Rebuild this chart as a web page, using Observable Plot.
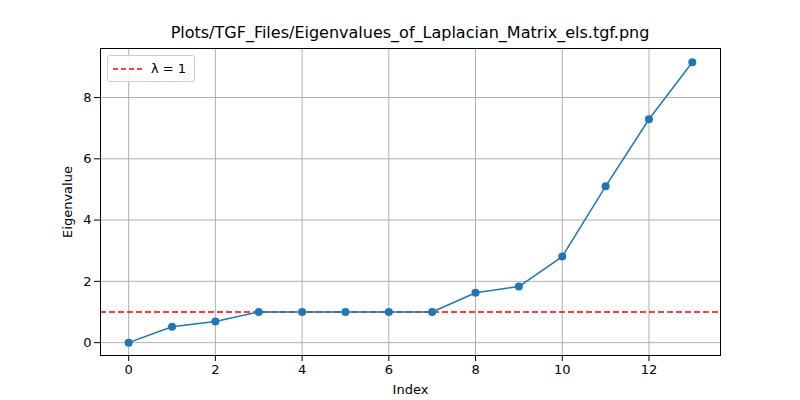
<!DOCTYPE html>
<html><head><meta charset="utf-8">
<script src="https://cdn.jsdelivr.net/npm/d3@7"></script>
<script src="https://cdn.jsdelivr.net/npm/@observablehq/plot@0.6"></script>
<style>
body{margin:0;font-family:"DejaVu Sans",sans-serif;background:#fff}
#wrap{position:relative;width:800px;height:400px}
#title{position:absolute;top:23px;left:0;width:820px;text-align:center;font-size:16px}
#legend{position:absolute;left:107px;top:55px;width:86px;height:25px;border:1px solid #ccc;border-radius:3px;background:rgba(255,255,255,.9);font-size:13px;display:flex;align-items:center}
</style></head><body>
<div id="wrap"><div id="chart"></div><div id="title">Plots/TGF_Files/Eigenvalues_of_Laplacian_Matrix_els.tgf.png</div>
<div id="legend"><svg width="30" height="10" style="margin-left:5px"><line x1="0" y1="5" x2="30" y2="5" stroke="red" stroke-width="1.5" stroke-dasharray="5,3"/></svg><span style="margin-left:8px;white-space:nowrap">λ = 1</span></div></div>
<script>
const index = [0,1,2,3,4,5,6,7,8,9,10,11,12,13]
const eigen = [0,0.52,0.69,1.0,1.0,1.0,1.0,1.0,1.63,1.83,2.81,5.10,7.29,9.15]
const data = index.map((i, k) => ({i, v: eigen[k]}))
const chart = Plot.plot({
  width: 800, height: 400,
  marginLeft: 100, marginRight: 80, marginTop: 48, marginBottom: 45,
  style: {fontSize: "13px", fontFamily: "DejaVu Sans, sans-serif", color: "#000"},
  x: {domain: [-0.65, 13.65], ticks: [0,2,4,6,8,10,12], label: "Index", labelAnchor: "center", labelArrow: "none", labelOffset: 38},
  y: {domain: [-0.42, 9.6], ticks: [0,2,4,6,8], label: "Eigenvalue", labelAnchor: "center", labelArrow: "none", labelOffset: 38},
  marks: [
    Plot.gridX([0,2,4,6,8,10,12], {stroke: "#b0b0b0", strokeOpacity: 1}),
    Plot.gridY([0,2,4,6,8], {stroke: "#b0b0b0", strokeOpacity: 1}),
    Plot.ruleY([1], {stroke: "red", strokeWidth: 1.5, strokeDasharray: "6,3"}),
    Plot.line(data, {x: "i", y: "v", stroke: "#1f77b4", strokeWidth: 1.5}),
    Plot.dot(data, {x: "i", y: "v", fill: "#1f77b4", r: 4}),
    Plot.frame({stroke: "#000"})
  ]
})
document.getElementById("chart").append(chart)
</script></body></html>
